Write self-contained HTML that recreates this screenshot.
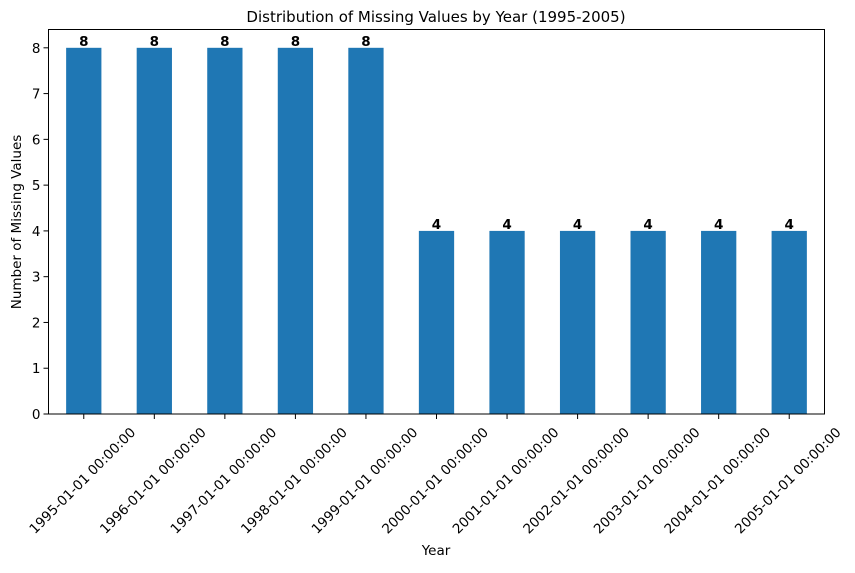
<!DOCTYPE html>
<html><head><meta charset="utf-8"><style>
body{margin:0;background:#fff}
svg{font-family:"DejaVu Sans","Liberation Sans",sans-serif}
</style></head><body>
<svg id="chart" width="855" height="568">
<rect width="855" height="568" fill="#fff"/>
<text x="436" y="22" text-anchor="middle" font-size="15">Distribution of Missing Values by Year (1995-2005)</text>
<g id="plot"></g>
<text x="436" y="555" text-anchor="middle" font-size="13.5">Year</text>
<text transform="translate(21,222) rotate(-90)" text-anchor="middle" font-size="13.5">Number of Missing Values</text>
</svg>
<script>
const categories=["1995-01-01 00:00:00","1996-01-01 00:00:00","1997-01-01 00:00:00","1998-01-01 00:00:00","1999-01-01 00:00:00","2000-01-01 00:00:00","2001-01-01 00:00:00","2002-01-01 00:00:00","2003-01-01 00:00:00","2004-01-01 00:00:00","2005-01-01 00:00:00"];
const values=[8,8,8,8,8,4,4,4,4,4,4];
const yTicks=[0,1,2,3,4,5,6,7,8];
const L=48.5,R=824.5,T=29.5,B=414,yMax=8.4;
const NS="http://www.w3.org/2000/svg";
const g=document.getElementById('plot');
const step=(R-L)/categories.length;
const x=i=>L+step*(i+0.5);
const y=v=>B-(v/yMax)*(B-T);
function mk(t,a,txt){const e=document.createElementNS(NS,t);for(const k in a)e.setAttribute(k,a[k]);if(txt!==undefined)e.textContent=txt;g.appendChild(e);return e;}
values.forEach((v,i)=>{
 const r=mk('rect',{x:x(i)-step*0.25,y:y(v),width:step*0.5,height:B-y(v),fill:'#1f77b4'});
 
 
 const lb=mk('text',{x:x(i),y:y(v)-2,'text-anchor':'middle','font-size':13.5,'font-weight':'bold'},String(v));
 
 
 const tk=mk('line',{x1:x(i),x2:x(i),y1:B,y2:B+5,stroke:'#000','stroke-width':1});
 
 
 const tl=mk('text',{transform:`translate(${x(i)-1},${481}) rotate(-45)`,'text-anchor':'middle','dominant-baseline':'middle','font-size':13.5},categories[i]);
 
 
});
yTicks.forEach(t=>{
 const tk=mk('line',{x1:L-5,x2:L,y1:y(t),y2:y(t),stroke:'#000','stroke-width':1});
 
 
 const tl=mk('text',{x:L-8,y:y(t)+5,'text-anchor':'end','font-size':13.5},String(t));
 
 
});
const fr=mk('rect',{x:L,y:T,width:R-L,height:B-T,fill:'none',stroke:'#000','stroke-width':1});


</script>
</body></html>
